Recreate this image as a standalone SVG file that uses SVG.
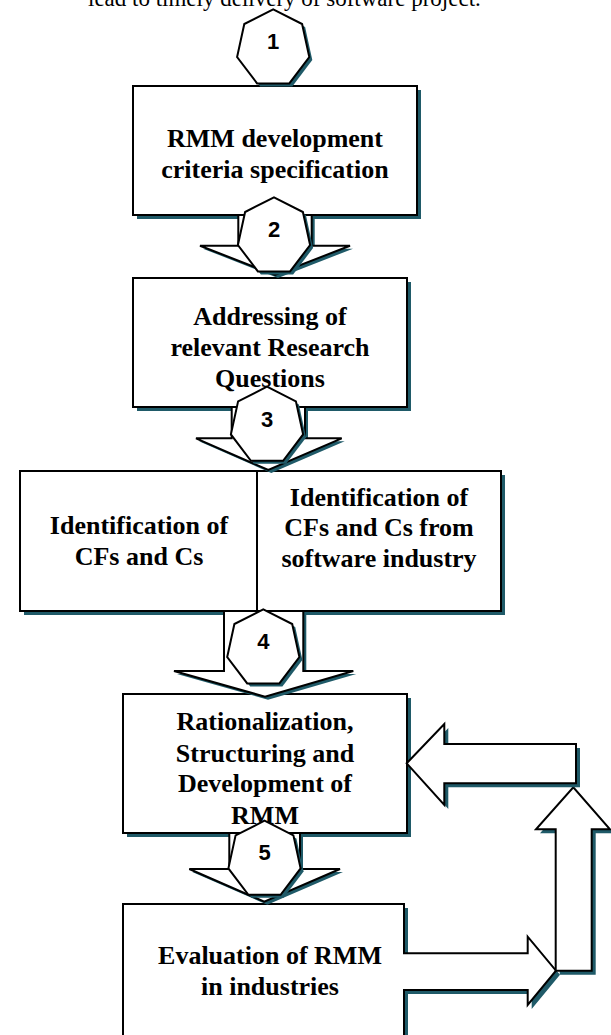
<svg xmlns="http://www.w3.org/2000/svg" width="611" height="1035" viewBox="0 0 611 1035">
<style>
.sh{fill:#1f5a68;stroke:none}
.bx{fill:#fff;stroke:#000;stroke-width:2}
.ln{fill:none;stroke:#000;stroke-width:2}
.t{font-family:"Liberation Serif","Times New Roman",serif;font-weight:bold;font-size:26px;text-anchor:middle;fill:#000}
.n{font-family:"Liberation Sans",Arial,sans-serif;font-weight:bold;font-size:22px;text-anchor:middle;fill:#000}
.body{font-family:"Liberation Serif","Times New Roman",serif;font-size:23px;fill:#000}
</style>
<defs>
<polygon id="hep" points="0,-39 28.9,-24.3 36.1,8.7 16.1,35.1 -16.1,35.1 -36.1,8.7 -28.9,-24.3"/>
</defs>
<rect width="611" height="1035" fill="#fff"/>
<text class="body" x="88" y="6">lead to timely delivery of software project.</text>

<g id="box1">
<rect class="sh" x="137" y="90" width="284" height="129"/>
<rect class="bx" x="133" y="86" width="284" height="129"/>
<text class="t" x="275" y="147">RMM development</text>
<text class="t" x="275" y="178">criteria specification</text>
</g>
<g id="box2">
<rect class="sh" x="137" y="282" width="274" height="129"/>
<rect class="bx" x="133" y="278" width="274" height="129"/>
<text class="t" x="270" y="325">Addressing of</text>
<text class="t" x="270" y="356">relevant Research</text>
<text class="t" x="270" y="387">Questions</text>
</g>
<g id="box3">
<rect class="sh" x="24" y="475" width="481" height="140"/>
<rect class="bx" x="20" y="471" width="481" height="140"/>
<line class="ln" x1="257" y1="471" x2="257" y2="611"/>
<text class="t" x="139" y="534">Identification of</text>
<text class="t" x="139" y="565">CFs and Cs</text>
<text class="t" x="379" y="506">Identification of</text>
<text class="t" x="379" y="536">CFs and Cs from</text>
<text class="t" x="379" y="567">software industry</text>
</g>
<g id="box4">
<rect class="sh" x="127" y="698" width="284" height="139"/>
<rect class="bx" x="123" y="694" width="284" height="139"/>
<text class="t" x="265" y="730">Rationalization,</text>
<text class="t" x="265" y="762">Structuring and</text>
<text class="t" x="265" y="792">Development of</text>
<text class="t" x="265" y="824">RMM</text>
</g>
<g id="box5">
<rect class="sh" x="127" y="908" width="281" height="140"/>
<rect class="bx" x="123" y="904" width="281" height="140"/>
<text class="t" x="270" y="964">Evaluation of RMM</text>
<text class="t" x="270" y="995">in industries</text>
</g>

<g id="connectors">
<g id="arrow2">
<polygon class="sh" transform="translate(3,3)" points="238.3,215 238.3,245.7 200,245.7 275,275 350,245.7 311.7,245.7 311.7,215"/>
<polygon class="bx" points="238.3,215 238.3,245.7 200,245.7 275,275 350,245.7 311.7,245.7 311.7,215"/>
</g>
<g id="arrow3">
<polygon class="sh" transform="translate(3,3)" points="231.7,407 231.7,438.3 196,438.3 268.3,470 341.7,438.3 305,438.3 305,407"/>
<polygon class="bx" points="231.7,407 231.7,438.3 196,438.3 268.3,470 341.7,438.3 305,438.3 305,407"/>
</g>
<g id="arrow4">
<polygon class="sh" transform="translate(3,3)" points="224,611 224,671 174,671 265,696.7 353.3,671 303.3,671 303.3,611"/>
<polygon class="bx" points="224,611 224,671 174,671 265,696.7 353.3,671 303.3,671 303.3,611"/>
</g>
<g id="arrow5">
<polygon class="sh" transform="translate(3,3)" points="229.3,833 229.3,869 189.3,869 264.3,901.7 340,869 300,869 300,833"/>
<polygon class="bx" points="229.3,833 229.3,869 189.3,869 264.3,901.7 340,869 300,869 300,833"/>
</g>
<g id="arrow-eval-right">
<path class="sh" transform="translate(4,4)" d="M402,953.3 H527.7 V936.7 L556,970.7 L527.7,1005 V990 H402 Z"/>
<path fill="#fff" stroke="none" d="M402,953.3 H527.7 V936.7 L556,970.7 L527.7,1005 V990 H402 Z"/>
<path class="ln" d="M403,953.3 H527.7 V936.7 L556,970.7 L527.7,1005 V990 H403"/>
</g>
<g id="arrow-up">
<polygon class="sh" transform="translate(4,4)" points="555.7,970.7 555.7,829.3 536,829.3 573.3,787.3 610,829.3 591.7,829.3 591.7,970.7"/>
<polygon class="bx" points="555.7,970.7 555.7,829.3 536,829.3 573.3,787.3 610,829.3 591.7,829.3 591.7,970.7"/>
</g>
<g id="arrow-back-left">
<polygon class="sh" transform="translate(4,4)" points="406.7,763.3 444.3,724 444.3,744 576,744 576,783.3 444.3,783.3 444.3,805"/>
<polygon class="bx" points="406.7,763.3 444.3,724 444.3,744 576,744 576,783.3 444.3,783.3 444.3,805"/>
</g>
</g>

<g id="step1">
<use href="#hep" class="sh" transform="translate(276.2,51.3)"/>
<use href="#hep" class="bx" transform="translate(273.2,48.3)"/>
<text class="n" x="273.2" y="49">1</text>
</g>
<g id="step2">
<use href="#hep" class="sh" transform="translate(277,239.3)"/>
<use href="#hep" class="bx" transform="translate(274,236.3)"/>
<text class="n" x="274" y="236.5">2</text>
</g>
<g id="step3">
<use href="#hep" class="sh" transform="translate(270,428.7)"/>
<use href="#hep" class="bx" transform="translate(267,425.7)"/>
<text class="n" x="267" y="426.5">3</text>
</g>
<g id="step4">
<use href="#hep" class="sh" transform="translate(266.3,651.3)"/>
<use href="#hep" class="bx" transform="translate(263.3,648.3)"/>
<text class="n" x="263.3" y="648.5">4</text>
</g>
<g id="step5">
<use href="#hep" class="sh" transform="translate(267.5,862.7)"/>
<use href="#hep" class="bx" transform="translate(264.5,859.7)"/>
<text class="n" x="264.5" y="859.5">5</text>
</g>
</svg>
